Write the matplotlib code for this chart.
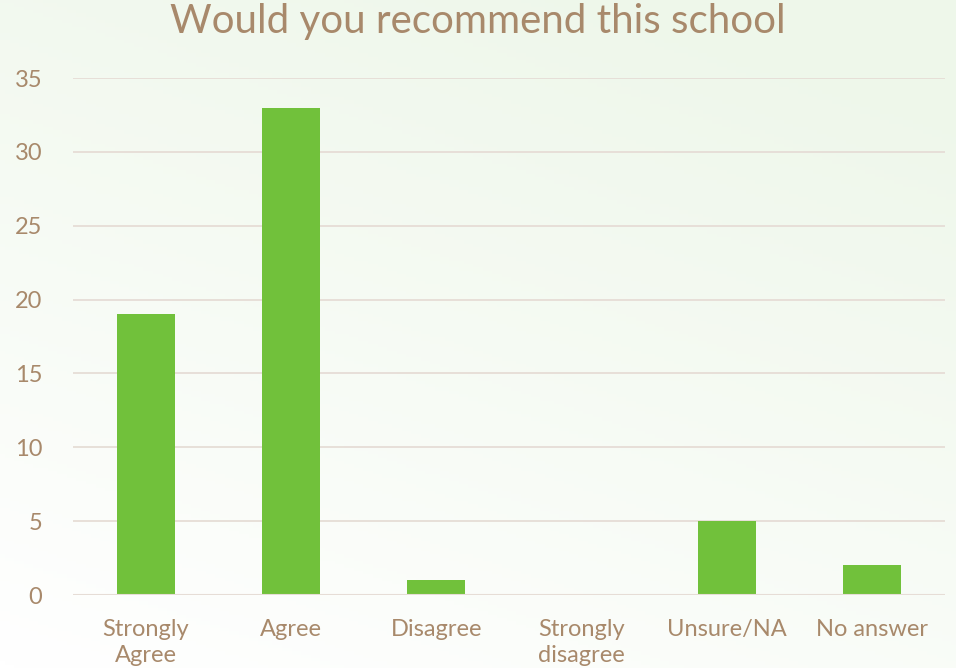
import matplotlib
matplotlib.use("Agg")
import matplotlib.pyplot as plt
import numpy as np
from matplotlib.colors import LinearSegmentedColormap

categories = ["Strongly\nAgree", "Agree", "Disagree", "Strongly\ndisagree", "Unsure/NA", "No answer"]
values = [19, 33, 1, 0, 5, 2]
yticks = [0, 5, 10, 15, 20, 25, 30, 35]
title = "Would you recommend this school"

text_color = "#A8896B"
bar_color = "#71C13B"
grid_color = "#E6DDD6"

plt.rcParams['font.family'] = ['Lato', 'DejaVu Sans']

fig = plt.figure(figsize=(9.56, 6.68), dpi=100)

# background gradient
bg = fig.add_axes([0, 0, 1, 1], zorder=-10)
h, w = 200, 200
yy, xx = np.mgrid[0:1:h*1j, 0:1:w*1j]
t = np.clip(0.75 * (1 - yy) + 0.35 * xx, 0, 1)
cmap = LinearSegmentedColormap.from_list("bg", ["#FFFFFF", "#EEF7EA"])
bg.imshow(t, cmap=cmap, aspect="auto", extent=[0, 1, 0, 1], origin="upper", vmin=0, vmax=1)
bg.axis("off")

ax = fig.add_axes([73/956, 1 - 595/668, (945-73)/956, (595-78)/668])
ax.patch.set_alpha(0)
x = np.arange(len(categories))
ax.bar(x, values, width=0.4, color=bar_color, zorder=3)
ax.set_xlim(-0.5, len(categories) - 0.5)
ax.set_ylim(0, 35)
ax.set_yticks(yticks)
ax.set_yticklabels([str(v) for v in yticks])
ax.set_xticks(x)
ax.set_xticklabels(categories, linespacing=1.3)
ax.tick_params(axis="both", length=0, colors=text_color, labelsize=17)
ax.tick_params(axis="y", pad=22)
ax.tick_params(axis="x", pad=17)
ax.grid(axis="y", color=grid_color, linewidth=1.3, zorder=0)
for s in ax.spines.values():
    s.set_visible(False)
ax.axhline(0, color=grid_color, linewidth=1.5, zorder=4)

fig.text(0.5, 1 - 22/668, title, ha="center", va="center", fontsize=29, color=text_color)

fig.savefig("out.png", dpi=100)
